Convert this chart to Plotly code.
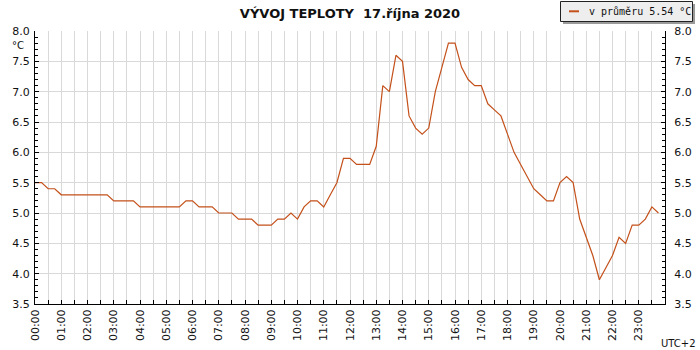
import numpy as np
import pandas as pd
import plotly.graph_objects as go

# ---- data (15-minute samples, 17.10.2020) ----
times = pd.date_range("2020-10-17 00:00", periods=96, freq="15min")
temps = [
    5.5, 5.5, 5.4, 5.4, 5.3, 5.3, 5.3, 5.3, 5.3, 5.3, 5.3, 5.3,   # 00:00-02:45
    5.2, 5.2, 5.2, 5.2, 5.1, 5.1, 5.1, 5.1, 5.1, 5.1, 5.1, 5.2,   # 03:00-05:45
    5.2, 5.1, 5.1, 5.1, 5.0, 5.0, 5.0, 4.9, 4.9, 4.9, 4.8, 4.8,   # 06:00-08:45
    4.8, 4.9, 4.9, 5.0, 4.9, 5.1, 5.2, 5.2, 5.1, 5.3, 5.5, 5.9,   # 09:00-11:45
    5.9, 5.8, 5.8, 5.8, 6.1, 7.1, 7.0, 7.6, 7.5, 6.6, 6.4, 6.3,   # 12:00-14:45
    6.4, 7.0, 7.4, 7.8, 7.8, 7.4, 7.2, 7.1, 7.1, 6.8, 6.7, 6.6,   # 15:00-17:45
    6.3, 6.0, 5.8, 5.6, 5.4, 5.3, 5.2, 5.2, 5.5, 5.6, 5.5, 4.9,   # 18:00-20:45
    4.6, 4.3, 3.9, 4.1, 4.3, 4.6, 4.5, 4.8, 4.8, 4.9, 5.1, 5.0,   # 21:00-23:45
]
hour_ticks = pd.date_range("2020-10-17 00:00", periods=24, freq="1h")
hour_labels = [t.strftime("%H:%M") for t in hour_ticks]

title_text = "VÝVOJ TEPLOTY\u00a0 17.října 2020"
legend_name = f"v průměru {np.mean(temps):.2f} °C"

LINE = "#c4501a"
GRID = "#d9d9d9"
FONT = "DejaVu Sans"

# plot-area geometry in pixels
L, R, T, B = 35, 665, 31, 304
PW, PH = R - L, B - T


def px(xp):
    return (xp - L) / PW


def py(yp):
    return (B - yp) / PH


fig = go.Figure()
fig.add_trace(go.Scatter(
    x=times, y=temps, mode="lines", name=legend_name, showlegend=False,
    line=dict(color=LINE, width=1.2),
))
# same series bound to the right-hand axis (invisible) so that axis renders
fig.add_trace(go.Scatter(
    x=times, y=temps, mode="lines", yaxis="y2", showlegend=False,
    hoverinfo="skip", opacity=0, line=dict(color=LINE, width=0),
))

yax_common = dict(
    range=[3.5, 8.0], tick0=3.5, dtick=0.5, tickformat=".1f",
    ticks="inside", ticklen=4, tickcolor="black",
    showline=True, linecolor="black", linewidth=1,
    tickfont=dict(family=FONT, size=11, color="#111"),
    zeroline=False, automargin=False,
    minor=dict(tick0=3.5, dtick=0.1, ticks="inside", ticklen=3,
               tickcolor="black", showgrid=False),
)

# legend box drawn by hand (shadow, box, sample line)
legend_shapes = [
    dict(type="rect", xref="paper", yref="paper", layer="above",
         x0=px(563), x1=px(695), y0=py(4), y1=py(24),
         fillcolor="#9a9a9a", line=dict(width=0)),
    dict(type="rect", xref="paper", yref="paper", layer="above",
         x0=px(560.5), x1=px(692.5), y0=py(1.5), y1=py(21.5),
         fillcolor="#eeeeee", line=dict(color="#222", width=1)),
    dict(type="line", xref="paper", yref="paper", layer="above",
         x0=px(569), x1=px(579), y0=py(11.3), y1=py(11.3),
         line=dict(color=LINE, width=2)),
]

fig.update_layout(
    width=700, height=350,
    margin=dict(l=L, r=700 - R, t=T, b=350 - B, autoexpand=False),
    paper_bgcolor="white", plot_bgcolor="white",
    font=dict(family=FONT, size=11, color="#111"),
    title=dict(text=title_text, x=0.5, xref="paper", y=1 - 13 / 350,
               yref="container", xanchor="center", yanchor="middle",
               font=dict(family=FONT, size=13, color="#111", weight="bold")),
    showlegend=False,
    shapes=legend_shapes,
    xaxis=dict(
        range=[times[0], times[0] + pd.Timedelta(hours=24)],
        tickmode="array", tickvals=hour_ticks, ticktext=hour_labels,
        tickangle=-90, ticks="inside", ticklen=4, tickcolor="black",
        showline=True, linecolor="black", linewidth=1,
        showgrid=True, gridcolor=GRID, gridwidth=1, automargin=False,
        tickfont=dict(family=FONT, size=11, color="#111"),
        minor=dict(tickmode="linear", tick0=times[0], dtick=1800000,
                   ticks="inside", ticklen=4, tickcolor="black",
                   showgrid=True, gridcolor=GRID, gridwidth=1),
    ),
    yaxis=dict(**yax_common, side="left", showgrid=True, gridcolor=GRID,
               ticklabelstandoff=2),
    yaxis2=dict(**yax_common, side="right", overlaying="y", showgrid=False,
                ticklabelstandoff=6),
    annotations=[
        dict(text="°C", xref="paper", yref="paper", x=px(26),
             y=py(45), xanchor="right", yanchor="middle",
             showarrow=False, font=dict(family=FONT, size=10, color="#111")),
        dict(text="UTC+2", xref="paper", yref="paper", x=px(698),
             y=py(343), xanchor="right", yanchor="middle",
             showarrow=False, font=dict(family=FONT, size=10, color="#111")),
        dict(text=legend_name, xref="paper", yref="paper", x=px(587),
             y=py(11.5), xanchor="left", yanchor="middle", showarrow=False,
             font=dict(family="DejaVu Sans Mono", size=10, color="#111")),
    ],
)

# remove the browser's default 8px page margin so the figure sits at (0, 0)
fig.write_html("out.html", config={"displayModeBar": False},
               post_script="document.body.style.margin='0px';")
